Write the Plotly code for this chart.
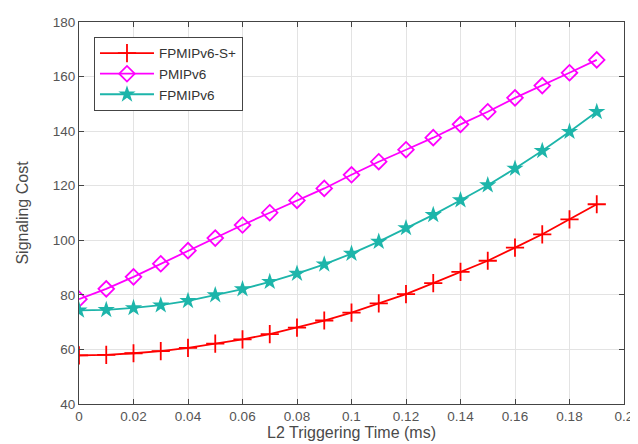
import plotly.graph_objects as go

time_ms = [0, 0.01, 0.02, 0.03, 0.04, 0.05, 0.06, 0.07, 0.08, 0.09,
           0.10, 0.11, 0.12, 0.13, 0.14, 0.15, 0.16, 0.17, 0.18, 0.19]
fpmipv6_s = [57.8, 58.0, 58.6, 59.4, 60.6, 62.1, 63.7, 65.6, 68.0, 70.6,
             73.5, 76.9, 80.3, 84.3, 88.4, 92.5, 97.3, 102.2, 107.7, 113.2]
pmipv6 = [78.4, 82.2, 86.6, 91.4, 96.2, 100.8, 105.6, 110.1, 114.6, 119.0,
          124.0, 128.8, 133.2, 137.6, 142.5, 147.1, 152.2, 156.7, 161.4, 166.1]
fpmipv6 = [74.3, 74.5, 75.2, 76.2, 77.8, 79.9, 82.1, 84.8, 87.8, 91.2,
           95.1, 99.5, 104.5, 109.3, 114.7, 120.2, 126.3, 132.8, 139.8, 147.1]
x_ticks = [0, 0.02, 0.04, 0.06, 0.08, 0.1, 0.12, 0.14, 0.16, 0.18, 0.2]
y_ticks = [40, 60, 80, 100, 120, 140, 160, 180]

FONT = "Liberation Sans, Arial, sans-serif"

fig = go.Figure()
fig.add_trace(go.Scatter(
    x=time_ms, y=fpmipv6_s, name="FPMIPv6-S+", mode="lines+markers",
    line=dict(color="#FF0000", width=1.8),
    marker=dict(symbol="cross-thin", size=13, line=dict(color="#FF0000", width=1.8))))
fig.add_trace(go.Scatter(
    x=time_ms, y=pmipv6, name="PMIPv6", mode="lines+markers",
    line=dict(color="#FF00FF", width=1.8),
    marker=dict(symbol="diamond-open", size=12, line=dict(color="#FF00FF", width=1.8))))
fig.add_trace(go.Scatter(
    x=time_ms, y=fpmipv6, name="FPMIPv6", mode="lines+markers",
    line=dict(color="#1DB5AA", width=1.8),
    marker=dict(symbol="star", size=13, color="#1DB5AA", line=dict(width=0))))

axis_common = dict(
    showline=True, linecolor="#444444", linewidth=1, mirror="ticks",
    ticks="inside", ticklen=5, tickcolor="#444444", automargin=False,
    showgrid=True, gridcolor="#E3E3E3", gridwidth=1, zeroline=False,
    tickfont=dict(family=FONT, size=13.5, color="#555555"),
)

fig.update_xaxes(range=[0, 0.2], tickvals=x_ticks, ticktext=[f"{v:g}" for v in x_ticks],
                 title=dict(text="L2 Triggering Time (ms)", standoff=3,
                            font=dict(family=FONT, size=16, color="#4a4a4a")),
                 **axis_common)
fig.update_yaxes(range=[40, 180], tickvals=y_ticks,
                 title=dict(text="Signaling Cost", standoff=20,
                            font=dict(family=FONT, size=16, color="#4a4a4a")),
                 **axis_common)

fig.update_layout(
    width=638, height=444,
    margin=dict(l=71, r=22, t=14, b=48),
    plot_bgcolor="white", paper_bgcolor="white",
    legend=dict(x=0.0275, y=0.961, xanchor="left", yanchor="top",
                bordercolor="#444444", borderwidth=1, bgcolor="white",
                font=dict(family=FONT, size=13.5, color="#333333"),
                tracegroupgap=0, itemwidth=54),
    showlegend=True,
)

fig.write_html("out.html")
